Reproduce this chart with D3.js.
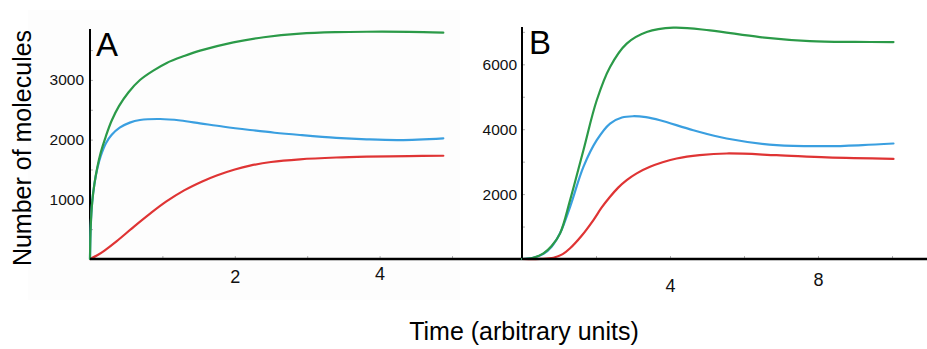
<!DOCTYPE html>
<html>
<head>
<meta charset="utf-8">
<script src="https://cdn.jsdelivr.net/npm/d3@7"></script>
<style>
  html, body { margin: 0; padding: 0; background: #ffffff; }
  svg { display: block; font-family: "Liberation Sans", Arial, sans-serif; }
</style>
</head>
<body>
<svg id="chart" width="927" height="349"></svg>
<script>
// ---------- Data ----------
// Panel A
const timeA_green = [0, 0.01, 0.03, 0.06, 0.1, 0.15, 0.22, 0.3, 0.4, 0.53, 0.69, 0.88, 1.06, 1.3, 1.52, 1.98, 2.4, 2.9, 3.4, 3.82, 4.4, 4.88];
const valsA_green = [0, 550, 950, 1250, 1530, 1790, 2060, 2320, 2560, 2790, 2998, 3160, 3285, 3400, 3490, 3630, 3715, 3775, 3800, 3807, 3805, 3791];
const timeA_blue  = [0, 0.01, 0.03, 0.06, 0.1, 0.15, 0.22, 0.3, 0.41, 0.55, 0.69, 0.97, 1.25, 1.52, 1.85, 2.21, 2.55, 2.9, 3.4, 3.82, 4.28, 4.88];
const valsA_blue  = [0, 550, 950, 1250, 1510, 1730, 1940, 2080, 2200, 2285, 2328, 2345, 2320, 2273, 2215, 2161, 2115, 2077, 2030, 2005, 1993, 2022];
const timeA_red   = [0, 0.1, 0.2, 0.37, 0.6, 0.83, 1.05, 1.3, 1.55, 1.75, 2.0, 2.21, 2.5, 2.9, 3.4, 3.82, 4.4, 4.88];
const valsA_red   = [0, 62, 142, 300, 535, 760, 960, 1150, 1300, 1400, 1500, 1565, 1625, 1670, 1700, 1714, 1725, 1730];

// Panel B
const timeB_green = [0, 0.3, 0.58, 0.8, 1.03, 1.3, 1.66, 2.02, 2.38, 2.83, 3.37, 4.09, 5.08, 6.43, 7.78, 9.0, 10.04];
const valsB_green = [0, 40, 175, 400, 790, 1815, 3354, 4892, 5917, 6637, 6994, 7129, 7046, 6840, 6717, 6690, 6686];
const timeB_blue  = [0, 0.3, 0.58, 0.8, 1.03, 1.3, 1.66, 2.02, 2.38, 2.7, 3.0, 3.35, 3.73, 4.63, 5.53, 6.88, 8.24, 9.2, 10.04];
const valsB_blue  = [0, 35, 160, 380, 800, 1609, 2840, 3661, 4175, 4360, 4400, 4370, 4277, 3969, 3713, 3508, 3477, 3510, 3560];
const timeB_red   = [0, 0.5, 0.85, 1.1, 1.3, 1.6, 1.93, 2.15, 2.38, 2.6, 2.83, 3.1, 3.46, 3.8, 4.18, 4.8, 5.53, 6.88, 8.24, 10.04];
const valsB_red   = [0, 5, 40, 150, 330, 700, 1200, 1580, 1917, 2200, 2430, 2640, 2840, 2980, 3098, 3200, 3252, 3200, 3129, 3086];

// Ticks
const xMinorA = [1, 2, 3, 4, 5];
const xLabelsA = [2, 4];
const yMinorA = [500, 1000, 1500, 2000, 2500, 3000, 3500];
const yLabelsA = [1000, 2000, 3000];
const xMinorB = [2, 4, 6, 8, 10];
const xLabelsB = [4, 8];
const yMinorB = [1000, 2000, 3000, 4000, 5000, 6000, 7000];
const yLabelsB = [2000, 4000, 6000];

const colors = { green: "#2b9a48", blue: "#3a9fe0", red: "#df3434" };

// ---------- Drawing ----------
const svg = d3.select("#chart");

// very faint panel background
svg.append("rect").attr("x", 28).attr("y", 10).attr("width", 432).attr("height", 290).attr("fill", "#fdfdfd");

const fontFam = '"Liberation Sans", Arial, sans-serif';

function panel(opts) {
  const x = d3.scaleLinear().domain(opts.xDomain).range(opts.xRange);
  const y = d3.scaleLinear().domain(opts.yDomain).range(opts.yRange);
  const g = svg.append("g");

  // x axis minor ticks (inside)
  const xa = d3.axisBottom(x).tickValues(opts.xMinor).tickSize(-3).tickFormat("");
  const gx = g.append("g").attr("transform", `translate(0,${y(0)})`).call(xa);
  gx.select(".domain").remove();
  gx.selectAll(".tick line").attr("stroke", "#b0b0b0").attr("stroke-width", 1);

  // y axis minor ticks (inside)
  const ya = d3.axisLeft(y).tickValues(opts.yMinor).tickSize(-3).tickFormat("");
  const gy = g.append("g").attr("transform", `translate(${x(0)},0)`).call(ya);
  gy.select(".domain").remove();
  gy.selectAll(".tick line").attr("stroke", "#b0b0b0").attr("stroke-width", 1);

  // y labels
  const yl = d3.axisLeft(y).tickValues(opts.yLabels).tickSize(0).tickPadding(opts.yPad).tickFormat(d3.format("d"));
  const gyl = g.append("g").attr("transform", `translate(${x(0)},0)`).call(yl);
  gyl.select(".domain").remove();
  gyl.attr("font-family", fontFam);
  gyl.selectAll("text").attr("font-size", 15.5).attr("fill", "#111");

  // x labels
  const xl = d3.axisBottom(x).tickValues(opts.xLabels).tickSize(0).tickPadding(0).tickFormat(d3.format("d"));
  const gxl = g.append("g").attr("transform", `translate(0,${y(0)})`).call(xl);
  gxl.select(".domain").remove();
  gxl.attr("font-family", fontFam);
  gxl.selectAll("text").attr("font-size", 18).attr("fill", "#111")
     .attr("dy", null).attr("y", d => opts.xLabelY(d) - y(0)).attr("dominant-baseline", "middle");

  // y axis line
  g.append("line").attr("x1", x(0)).attr("x2", x(0))
    .attr("y1", y(0) + 1).attr("y2", y(opts.yDomain[1]))
    .attr("stroke", "#000").attr("stroke-width", 2);

  // curves
  const line = d3.line().x(d => x(d[0])).y(d => y(d[1])).curve(d3.curveCatmullRom.alpha(0.5));
  opts.series.forEach(s => {
    const pts = s.t.map((t, i) => [t, s.v[i]]);
    g.append("path").datum(pts).attr("d", line)
      .attr("fill", "none").attr("stroke", s.color).attr("stroke-width", 2.2)
      .attr("stroke-linejoin", "round").attr("stroke-linecap", "round");
  });

  // x axis line
  g.append("line").attr("x1", opts.xRange[0]).attr("x2", opts.xRange[1])
    .attr("y1", y(0)).attr("y2", y(0))
    .attr("stroke", "#000").attr("stroke-width", 2.5);

  // panel letter
  g.append("text").attr("x", opts.letterX).attr("y", opts.letterY)
    .attr("font-size", 33).attr("fill", "#000").text(opts.letter);
}

panel({
  xDomain: [0, (522 - 90) / 72.4], xRange: [90, 522],
  yDomain: [0, 3853], yRange: [259, 29],
  xMinor: xMinorA, xLabels: xLabelsA, yMinor: yMinorA, yLabels: yLabelsA,
  yPad: 6,
  xLabelY: d => (d === 2 ? 278 : 275),
  series: [
    { t: timeA_red, v: valsA_red, color: colors.red },
    { t: timeA_blue, v: valsA_blue, color: colors.blue },
    { t: timeA_green, v: valsA_green, color: colors.green }
  ],
  letter: "A", letterX: 96, letterY: 56
});

panel({
  xDomain: [0, (927 - 522) / 37], xRange: [522, 927],
  yDomain: [0, 7150], yRange: [259, 27],
  xMinor: xMinorB, xLabels: xLabelsB, yMinor: yMinorB, yLabels: yLabelsB,
  yPad: 5,
  xLabelY: d => (d === 4 ? 287 : 281),
  series: [
    { t: timeB_red, v: valsB_red, color: colors.red },
    { t: timeB_blue, v: valsB_blue, color: colors.blue },
    { t: timeB_green, v: valsB_green, color: colors.green }
  ],
  letter: "B", letterX: 529, letterY: 54
});

// axis titles
svg.append("text")
  .attr("transform", "translate(31,148) rotate(-90)")
  .attr("text-anchor", "middle").attr("font-size", 25).attr("fill", "#000")
  .text("Number of molecules");

svg.append("text")
  .attr("x", 524).attr("y", 340)
  .attr("text-anchor", "middle").attr("font-size", 25).attr("fill", "#000")
  .text("Time (arbitrary units)");
</script>
</body>
</html>
